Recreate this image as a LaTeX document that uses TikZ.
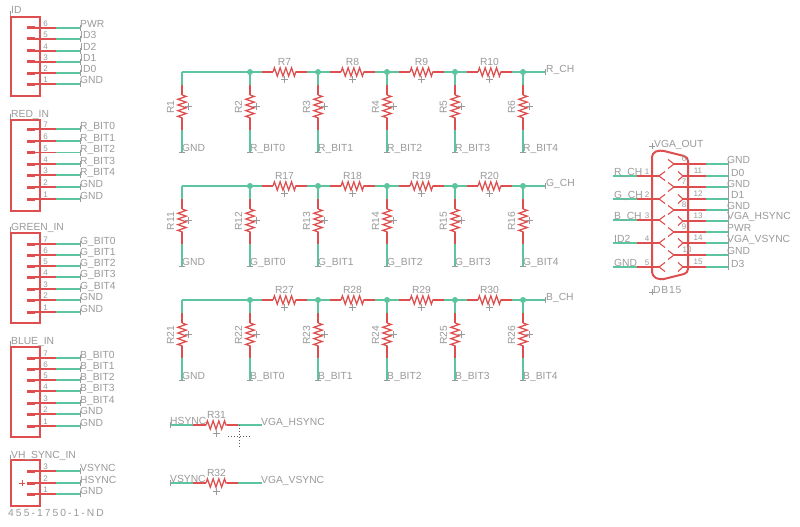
\documentclass[tikz,border=0pt]{standalone}
\usepackage{fontspec}
\setmainfont{Liberation Sans}
\usetikzlibrary{decorations.pathmorphing,calc}
\definecolor{wgreen}{HTML}{5CC49E}
\definecolor{wred}{HTML}{DE4E4E}
\definecolor{tgray}{HTML}{9A9A9A}
\tikzset{
  net/.style={draw=wgreen,line width=1.2pt},
  lead/.style={draw=wred,line width=1.1pt},
  body/.style={draw=wred,line width=2pt},
  zig/.style={draw=wred,line width=1.25pt,decorate,decoration={zigzag,amplitude=4.2pt,segment length=5.7pt}},
  lbl/.style={text=tgray,font=\fontsize{10.3}{11}\selectfont,inner sep=0pt,anchor=base west},
  num/.style={text=tgray,font=\fontsize{8}{9}\selectfont,inner sep=0pt,anchor=base},
  tick/.style={draw=tgray,line width=.5pt},
  dot/.style={circle,fill=wgreen,draw=none,inner sep=0pt,minimum size=6pt},
  stub/.style={draw=wred,line width=3pt},
}
% connector: name, title, box top, box bottom, title y, list of y/pin/label
\newcommand{\conn}[6]{%
  \node[body,draw,fill=none,inner sep=0pt,minimum width=29pt,minimum height=#4pt-#3pt,anchor=north west] (#1box) at (10,#3) {};
  \node[lbl] (#1title) at (11,#5) {#2};
  \draw[tick] (10,#5-3) -- (10,#5+2);
  \foreach \py/\pn/\pl in {#6}{
    \coordinate (#1a\pn) at (39,\py);
    \coordinate (#1m\pn) at (56,\py);
    \coordinate (#1e\pn) at (80,\py);
    \draw[stub] (27,\py) -- (35,\py);
    \draw[lead] (35,\py) -- (#1a\pn) -- (#1m\pn);
    \draw[net] (#1m\pn) -- (#1e\pn);
    \draw[tick] ($(#1e\pn)+(0,-3)$) -- ($(#1e\pn)+(0,3)$);
    \node[num] (#1n\pn) at (45.5,\py-1.5) {\pn};
    \node[lbl] (#1l\pn) at (80,\py) {\pl};
  }
}
% resistor row: y, prefix, first vertical ref, first horizontal ref, channel
\newcommand{\rrow}[5]{%
  \foreach \i/\x/\nm in {0/182/GND,1/250/#2\_BIT0,2/318/#2\_BIT1,3/387/#2\_BIT2,4/455/#2\_BIT3,5/523/#2\_BIT4}{
    \pgfmathtruncatemacro{\rn}{#3+\i}
    \coordinate (T#1-\i) at (\x,#1);
    \coordinate (Ta#1-\i) at (\x,#1+13);
    \coordinate (Tb#1-\i) at (\x,#1+23);
    \coordinate (Tc#1-\i) at (\x,#1+46);
    \coordinate (Td#1-\i) at (\x,#1+58);
    \coordinate (Te#1-\i) at (\x,#1+80);
    \draw[net] (T#1-\i) -- (Ta#1-\i);
    \draw[lead] (Ta#1-\i) -- (Tb#1-\i) (Tc#1-\i) -- (Td#1-\i);
    \draw[zig] (Tb#1-\i) -- (Tc#1-\i);
    \draw[net] (Td#1-\i) -- (Te#1-\i);
    \draw[tick] ($(Te#1-\i)+(-3,0)$) -- ($(Te#1-\i)+(3,0)$);
    \draw[tick] (\x+3,#1+34.5) -- (\x+10,#1+34.5) (\x+6.5,#1+31) -- (\x+6.5,#1+38);
    \node[lbl,rotate=90,anchor=center] (Vr#1-\i) at (\x-11.5,#1+35) {R\rn};
    \node[lbl] (Vl#1-\i) at (\x,#1+79) {\nm};
  }
  \draw[net] (T#1-0) -- (T#1-1);
  \foreach \i/\j/\x in {1/2/250,2/3/318,3/4/387,4/5/455}{
    \pgfmathtruncatemacro{\rn}{#4+\i-1}
    \coordinate (Ha#1-\i) at (\x+12,#1);
    \coordinate (Hb#1-\i) at (\x+23,#1);
    \coordinate (Hc#1-\i) at (\x+46,#1);
    \coordinate (Hd#1-\i) at (\x+57,#1);
    \draw[net] (T#1-\i) -- (Ha#1-\i);
    \draw[lead] (Ha#1-\i) -- (Hb#1-\i) (Hc#1-\i) -- (Hd#1-\i);
    \draw[zig] (Hb#1-\i) -- (Hc#1-\i);
    \draw[net] (Hd#1-\i) -- (T#1-\j);
    \draw[tick] (\x+34.5,#1+4) -- (\x+34.5,#1+11) (\x+31,#1+7.5) -- (\x+38,#1+7.5);
    \node[lbl,anchor=center] (Hr#1-\i) at (\x+34.5,#1-10) {R\rn};
  }
  \foreach \i in {1,...,5}{\node[dot] (J#1-\i) at (T#1-\i) {};}
  \coordinate (Out#1) at (545,#1);
  \draw[net] (T#1-5) -- (Out#1);
  \draw[tick] ($(Out#1)+(0,-3)$) -- ($(Out#1)+(0,3)$);
  \node[lbl] (Ch#1) at (546,#1) {#5};
}
\newcommand{\sres}[5]{%
  \coordinate (S#1a) at (170,#2);
  \coordinate (S#1b) at (193,#2);
  \coordinate (S#1c) at (206,#2);
  \coordinate (S#1d) at (227,#2);
  \coordinate (S#1e) at (238,#2);
  \coordinate (S#1f) at (262,#2);
  \draw[net] (S#1a) -- (S#1b);
  \draw[lead] (S#1b) -- (S#1c) (S#1d) -- (S#1e);
  \draw[zig] (S#1c) -- (S#1d);
  \draw[net] (S#1e) -- (S#1f);
  \draw[tick] (S#1a) ++(0,-3) -- ++(0,6);
  \draw[tick] (216,#2+5) -- (216,#2+12) (212.5,#2+8.5) -- (219.5,#2+8.5);
  \node[lbl] (S#1l) at (170,#2-1) {#3};
  \node[lbl,anchor=center] (S#1r) at (216.5,#2-10) {#4};
  \node[lbl] (S#1o) at (261,#2) {#5};
}
\begin{document}
\begin{tikzpicture}[x=1pt,y=-1pt]
\useasboundingbox (0,0) rectangle (800,527);
\fill[white] (0,0) rectangle (800,527);
\conn{id}{ID}{16}{95}{14}{28/6/PWR,39/5/ID3,51/4/ID2,62/3/ID1,73/2/ID0,84/1/GND}
\conn{red}{RED\_IN}{119}{210}{117}{129/7/R\_BIT0,141/6/R\_BIT1,152.5/5/R\_BIT2,164/4/R\_BIT3,175/3/R\_BIT4,187/2/GND,199/1/GND}
\conn{grn}{GREEN\_IN}{232}{322}{230}{244/7/G\_BIT0,255/6/G\_BIT1,266/5/G\_BIT2,277/4/G\_BIT3,289/3/G\_BIT4,300/2/GND,312/1/GND}
\conn{blu}{BLUE\_IN}{346}{436}{344}{358/7/B\_BIT0,369/6/B\_BIT1,380/5/B\_BIT2,391/4/B\_BIT3,403/3/B\_BIT4,414/2/GND,426/1/GND}
\conn{vh}{VH\_SYNC\_IN}{459}{505}{458}{471/3/VSYNC,483/2/HSYNC,494/1/GND}
\node[lbl,font=\fontsize{10.3}{11}\selectfont\addfontfeature{LetterSpace=20}] (partno) at (8,516) {455-1750-1-ND};
\draw[wred,line width=1pt] (19,483) -- (25,483) (22,480) -- (22,486);

\rrow{72}{R}{1}{7}{R\_CH}
\rrow{186}{G}{11}{17}{G\_CH}
\rrow{300}{B}{21}{27}{B\_CH}

\sres{h}{425}{HSYNC}{R31}{VGA\_HSYNC}
\sres{v}{483}{VSYNC}{R32}{VGA\_VSYNC}

\draw[dotted,draw=black!65,line width=1pt] (228,436.5) -- (250,436.5) (239,425) -- (239,448);

% DB15
\node[lbl] (dbtitle) at (654,147) {VGA\_OUT};
\node[lbl,font=\fontsize{10.3}{11}\selectfont\addfontfeature{LetterSpace=8}] (dbval) at (653,293) {DB15};
\draw[tick] (652,143) -- (652,149) (649,146) -- (655,146);
\draw[tick] (652,289) -- (652,295) (649,292) -- (655,292);
\draw[body,rounded corners=4pt] (652,153) -- (660,150) -- (688,157) -- (688,273) -- (660,280) -- (652,276) -- cycle;
\foreach \py/\pn/\pl in {176/1/R\_CH,199/2/G\_CH,220/3/B\_CH,243/4/ID2,267/5/GND}{
  \coordinate (La\pn) at (613,\py);
  \coordinate (Lb\pn) at (637,\py);
  \coordinate (Lc\pn) at (659,\py);
  \draw[net] (La\pn) -- (Lb\pn);
  \draw[lead] (Lb\pn) -- (Lc\pn);
  \draw[lead] (665,\py-4.5) -- (Lc\pn) -- (665,\py+4.5);
  \node[lbl] (Ll\pn) at (614,\py-1) {\pl};
  \node[num] (Ln\pn) at (647,\py-2) {\pn};
}
\foreach \py/\pn/\pl/\lx/\ly in {176/11/D0/731/176,199/12/D1/731/198,221/13/VGA\_HSYNC/727/219,243/14/VGA\_VSYNC/727/242,267/15/D3/731/267}{
  \coordinate (Ra\pn) at (728,\py);
  \coordinate (Rb\pn) at (706,\py);
  \coordinate (Rc\pn) at (683,\py);
  \draw[net] (Ra\pn) -- (Rb\pn);
  \draw[lead] (Rb\pn) -- (Rc\pn);
  \draw[lead] (678,\py-4.5) -- (Rc\pn) -- (678,\py+4.5);
  \node[lbl] (Rl\pn) at (\lx,\ly) {\pl};
  \node[num] (Rn\pn) at (698,\py-3) {\pn};
}
\foreach \py/\pn/\pl/\ly/\nx in {164/6/GND/163/684,187/7/GND/187/684,210/8/GND/209/684,232/9/PWR/231/684,255/10/GND/254/687}{
  \coordinate (Ma\pn) at (728,\py);
  \coordinate (Mb\pn) at (706,\py);
  \coordinate (Mc\pn) at (674,\py);
  \draw[net] (Ma\pn) -- (Mb\pn);
  \draw[lead] (Mb\pn) -- (Mc\pn);
  \draw[lead] (668,\py-4.5) -- (Mc\pn) -- (668,\py+4.5);
  \node[lbl] (Ml\pn) at (727,\ly) {\pl};
  \node[num] (Mn\pn) at (\nx,\py-3) {\pn};
}
\draw[tick] (728,161) -- (728,270);
\end{tikzpicture}
\end{document}
